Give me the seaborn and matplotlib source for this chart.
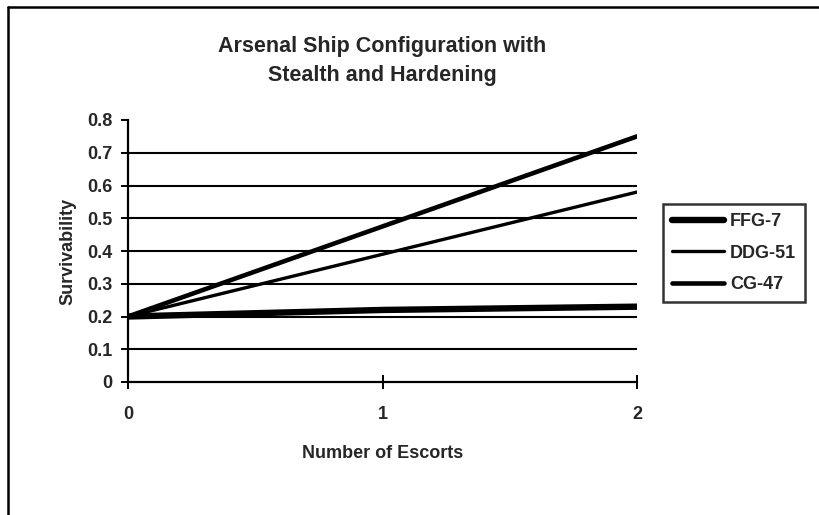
import matplotlib
matplotlib.use("Agg")
import matplotlib.pyplot as plt
from matplotlib.lines import Line2D
import seaborn as sns

# chart values
escorts = [0, 1, 2]
ffg7 = [0.20, 0.22, 0.23]
ddg51 = [0.20, 0.39, 0.58]
cg47 = [0.20, 0.475, 0.75]
series_names = ["FFG-7", "DDG-51", "CG-47"]
y_ticks = [0, 0.1, 0.2, 0.3, 0.4, 0.5, 0.6, 0.7, 0.8]
y_tick_labels = ["0", "0.1", "0.2", "0.3", "0.4", "0.5", "0.6", "0.7", "0.8"]

sns.set_theme(style="white")
plt.rcParams["font.family"] = ["Liberation Sans", "DejaVu Sans"]
plt.rcParams["font.weight"] = "bold"

fig = plt.figure(figsize=(8.19, 5.15), dpi=100)
ax = fig.add_axes([128 / 819, 1 - 382 / 515, (637 - 128) / 819, (382 - 120) / 515])

# horizontal gridlines (0.1 .. 0.7)
for yv in y_ticks[1:-1]:
    ax.axhline(yv, color="black", lw=1.5, zorder=1)

widths = [4.6, 2.4, 3.3]
for name, vals, lw in zip(series_names, [ffg7, ddg51, cg47], widths):
    sns.lineplot(x=escorts, y=vals, ax=ax, color="black", lw=lw, label=name, zorder=3)

ax.set_xlim(0, 2)
ax.set_ylim(0, 0.8)
ax.set_xticks(escorts)
ax.set_xticklabels([str(e) for e in escorts], fontsize=13, fontweight="bold")
ax.set_yticks(y_ticks)
ax.set_yticklabels(y_tick_labels, fontsize=13, fontweight="bold")

for side in ["top", "right"]:
    ax.spines[side].set_visible(False)
for side in ["left", "bottom"]:
    ax.spines[side].set_color("black")
    ax.spines[side].set_linewidth(1.6)

ax.tick_params(axis="y", direction="out", length=5, width=1.4, color="black", pad=6, left=True)
ax.tick_params(axis="x", direction="inout", length=10, width=1.4, color="black", pad=12, bottom=True)

ax.set_xlabel("Number of Escorts", fontsize=13, fontweight="bold", labelpad=16)
ax.set_ylabel("Survivability", fontsize=13, fontweight="bold", labelpad=8)

fig.text(382 / 819, 1 - 61 / 515, "Arsenal Ship Configuration with\nStealth and Hardening",
         ha="center", va="center", fontsize=15.5, fontweight="bold", linespacing=1.55)

leg = ax.legend(loc="center left", bbox_to_anchor=(663 / 819, 1 - 253 / 515),
                bbox_transform=fig.transFigure, frameon=True, fancybox=False,
                fontsize=13, handlelength=2.9, borderpad=0.5, labelspacing=0.8,
                handletextpad=0.3, borderaxespad=0)
leg.get_frame().set_edgecolor("black")
leg.get_frame().set_linewidth(1.8)
for t in leg.get_texts():
    t.set_fontweight("bold")

# page border left and top, as in the scan
fig.add_artist(Line2D([8 / 819, 8 / 819], [0, 1 - 7 / 515], color="black", lw=1.8))
fig.add_artist(Line2D([8 / 819, 1], [1 - 7 / 515, 1 - 7 / 515], color="black", lw=1.8))

fig.savefig("out.png", dpi=100, facecolor="white")
